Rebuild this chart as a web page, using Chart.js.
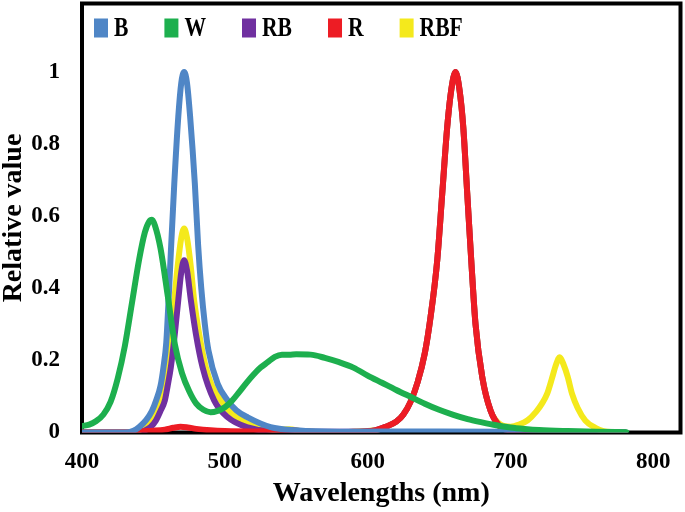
<!DOCTYPE html>
<html>
<head>
<meta charset="utf-8">
<script src="https://cdn.jsdelivr.net/npm/chart.js@4.4.1/dist/chart.umd.min.js"></script>
<style>
  html, body { margin: 0; padding: 0; background: #fff; }
  #myChart { display: block; }
</style>
</head>
<body>
<canvas id="myChart" width="685" height="512"></canvas>
<script>
// tick labels
const xTicks = [400, 500, 600, 700, 800];
const yTicks = [0, 0.2, 0.4, 0.6, 0.8, 1];

// B
const bWave = [400, 430, 436, 440, 445, 449, 452, 455, 457, 459, 461, 462.2, 464.6, 467.4, 469.5, 471.5, 473.5, 475.7, 479, 481.3, 483.5, 486, 488.5, 495, 502, 508, 516, 532, 550, 580, 650, 720, 780];
const bValue = [0, 0, 0.005, 0.015, 0.035, 0.06, 0.09, 0.13, 0.18, 0.25, 0.4, 0.5, 0.69, 0.876, 0.97, 1, 0.97, 0.876, 0.69, 0.52, 0.4, 0.3, 0.228, 0.135, 0.089, 0.062, 0.042, 0.015, 0.006, 0.002, 0.003, 0.002, 0.001];

// W
const wWave = [400, 405, 410, 415, 420, 425, 430, 435, 440, 444, 447, 449, 451, 455, 460, 465, 470, 475, 480, 485, 490, 495, 500, 505, 510, 515, 520, 525, 530, 535, 540, 545, 550, 560, 570, 580, 590, 600, 610, 620, 630, 640, 650, 660, 670, 680, 690, 700, 710, 720, 740, 760, 781];
const wValue = [0.018, 0.022, 0.032, 0.05, 0.085, 0.15, 0.24, 0.36, 0.48, 0.555, 0.585, 0.59, 0.575, 0.51, 0.38, 0.245, 0.165, 0.115, 0.08, 0.063, 0.056, 0.06, 0.07, 0.088, 0.112, 0.137, 0.16, 0.18, 0.195, 0.21, 0.216, 0.216, 0.217, 0.216, 0.207, 0.195, 0.18, 0.158, 0.138, 0.118, 0.099, 0.08, 0.063, 0.049, 0.037, 0.028, 0.02, 0.014, 0.01, 0.007, 0.004, 0.002, 0.001];

// RB
const rbWave = [400, 438, 443.6, 448, 451.7, 455, 458, 460, 462.2, 465, 467.4, 469.5, 471.5, 473.5, 476.2, 479.7, 484.4, 492.5, 502, 516, 530, 545, 560, 590, 605, 612, 620, 625, 630, 635, 640, 644, 648.7, 652.2, 655.7, 658.5, 661.5, 664.3, 666.9, 669.7, 672.5, 675.5, 680.2, 686, 693, 700, 710, 730, 780];
const rbValue = [0, 0, 0.005, 0.015, 0.033, 0.06, 0.089, 0.13, 0.181, 0.274, 0.367, 0.445, 0.478, 0.45, 0.367, 0.274, 0.181, 0.089, 0.042, 0.014, 0.005, 0.006, 0.002, 0.002, 0.006, 0.015, 0.03, 0.05, 0.085, 0.14, 0.22, 0.32, 0.478, 0.663, 0.848, 0.95, 1, 0.95, 0.848, 0.663, 0.478, 0.3, 0.154, 0.061, 0.015, 0.006, 0.002, 0, 0];

// R
const rWave = [400, 432, 440, 450, 458, 464, 469, 474, 480, 490, 500, 520, 535, 545, 555, 570, 590, 605, 612, 620, 625, 630, 635, 640, 644, 648.7, 652.2, 655.7, 658.5, 661.5, 664.3, 666.9, 669.7, 672.5, 675.5, 680.2, 686, 693, 700, 710, 730, 780];
const rValue = [0, 0, 0.003, 0.005, 0.008, 0.013, 0.016, 0.014, 0.01, 0.006, 0.004, 0.003, 0.004, 0.006, 0.003, 0.001, 0.002, 0.006, 0.015, 0.03, 0.05, 0.085, 0.14, 0.22, 0.32, 0.478, 0.663, 0.848, 0.95, 1, 0.95, 0.848, 0.663, 0.478, 0.3, 0.154, 0.061, 0.015, 0.006, 0.002, 0, 0];

// RBF
const rbfWave = [400, 436, 439, 444, 448.3, 451, 454.1, 456.5, 458.7, 462.2, 464.6, 466.9, 469.5, 471.5, 473.5, 476.2, 478.5, 482, 486.7, 491, 497.2, 503, 508.9, 516, 525.2, 535, 545, 555, 580, 605, 612, 620, 625, 630, 635, 640, 644, 648.7, 652.2, 655.7, 658.5, 661.5, 664.3, 666.9, 669.7, 672.5, 675.5, 680.2, 686, 693, 700, 706, 712, 718, 722, 725.6, 729, 732, 734.5, 737, 740, 743.1, 747, 752.4, 759.4, 765, 772, 780];
const rbfValue = [0, 0, 0.005, 0.015, 0.033, 0.06, 0.089, 0.135, 0.181, 0.274, 0.367, 0.459, 0.54, 0.566, 0.54, 0.459, 0.367, 0.274, 0.181, 0.13, 0.089, 0.06, 0.042, 0.025, 0.014, 0.007, 0.009, 0.003, 0.001, 0.006, 0.015, 0.03, 0.05, 0.085, 0.14, 0.22, 0.32, 0.478, 0.663, 0.848, 0.95, 1, 0.95, 0.848, 0.663, 0.478, 0.3, 0.154, 0.061, 0.022, 0.016, 0.022, 0.034, 0.058, 0.08, 0.107, 0.15, 0.19, 0.209, 0.19, 0.155, 0.107, 0.068, 0.033, 0.013, 0.004, 0.001, 0];

const toPoints = (wave, value) => wave.map((x, i) => ({x: x, y: value[i]}));

const line = (label, wave, value, color, order) => ({
    label: label,
    data: toPoints(wave, value),
    borderColor: color,
    backgroundColor: color,
    borderWidth: 6,
    pointRadius: 0,
    fill: false,
    cubicInterpolationMode: 'monotone',
    borderCapStyle: 'round',
    borderJoinStyle: 'round',
    order: order
});

const font = 'Liberation Serif';

// black box round the plot
const frame = {
    id: 'frame',
    beforeDatasetsDraw(chart) {
        const {ctx, chartArea: a} = chart;
        ctx.save();
        ctx.strokeStyle = '#000';
        ctx.lineWidth = 4;
        ctx.strokeRect(a.left, a.top, a.right - a.left, a.bottom - a.top);
        ctx.restore();
    }
};

// legend drawn inside the box, square markers, text a bit narrow like the original
const boxLegend = {
    id: 'boxLegend',
    afterDraw(chart) {
        const {ctx, chartArea} = chart;
        const squeeze = 0.8;
        ctx.save();
        ctx.font = 'bold 27px "' + font + '"';
        ctx.textBaseline = 'middle';
        let x = chartArea.left + 12;
        const y = 28;
        chart.data.datasets.forEach(ds => {
            ctx.fillStyle = ds.borderColor;
            ctx.fillRect(x, y - 9.5, 14, 19);
            const tx = x + 20;
            const w = ctx.measureText(ds.label).width * squeeze;
            ctx.save();
            ctx.translate(tx, y + 1);
            ctx.scale(squeeze, 1);
            ctx.fillStyle = '#000';
            ctx.fillText(ds.label, 0, 0);
            ctx.restore();
            x = tx + w + 36;
        });
        ctx.restore();
    }
};

const data = {
    datasets: [
        line('B', bWave, bValue, '#4F86C6', 2),
        line('W', wWave, wValue, '#1DAF4E', 1),
        line('RB', rbWave, rbValue, '#7030A0', 4),
        line('R', rWave, rValue, '#ED1C24', 3),
        line('RBF', rbfWave, rbfValue, '#F4E91C', 5)
    ]
};

const config = {
    type: 'line',
    data: data,
    options: {
        responsive: false,
        animation: false,
        devicePixelRatio: 1,
        layout: {
            autoPadding: false,
            padding: {left: 0, top: 3.5, right: 4.5, bottom: 0}
        },
        plugins: {
            legend: {display: false},
            tooltip: {enabled: false}
        },
        scales: {
            x: {
                type: 'linear',
                min: 400,
                max: 819,
                afterBuildTicks: axis => { axis.ticks = xTicks.map(v => ({value: v})); },
                afterFit: axis => {
                    axis.height = 79.5;
                    axis.paddingLeft = 0;
                    axis.paddingRight = 0;
                },
                grid: {display: false, drawTicks: false},
                border: {display: false},
                ticks: {
                    padding: 16,
                    maxRotation: 0,
                    color: '#000',
                    font: {family: font, size: 23, weight: 'bold'},
                    callback: v => String(v)
                },
                title: {
                    display: true,
                    text: 'Wavelengths (nm)',
                    color: '#000',
                    font: {family: font, size: 28, weight: 'bold', lineHeight: 1},
                    padding: {top: 0, bottom: 4}
                }
            },
            y: {
                min: 0,
                max: 1.19,
                afterBuildTicks: axis => { axis.ticks = yTicks.map(v => ({value: v})); },
                afterFit: axis => {
                    axis.width = 82;
                    axis.paddingTop = 0;
                    axis.paddingBottom = 0;
                },
                grid: {display: false, drawTicks: false},
                border: {display: false},
                ticks: {
                    padding: 22,
                    color: '#000',
                    font: {family: font, size: 23, weight: 'bold'},
                    callback: v => String(v)
                },
                title: {
                    display: true,
                    text: 'Relative value',
                    color: '#000',
                    font: {family: font, size: 28, weight: 'bold', lineHeight: 1},
                    padding: {top: 0, bottom: 0}
                }
            }
        }
    },
    plugins: [frame, boxLegend]
};

const ctx = document.getElementById('myChart');

new Chart(ctx, config);
</script>
</body>
</html>
